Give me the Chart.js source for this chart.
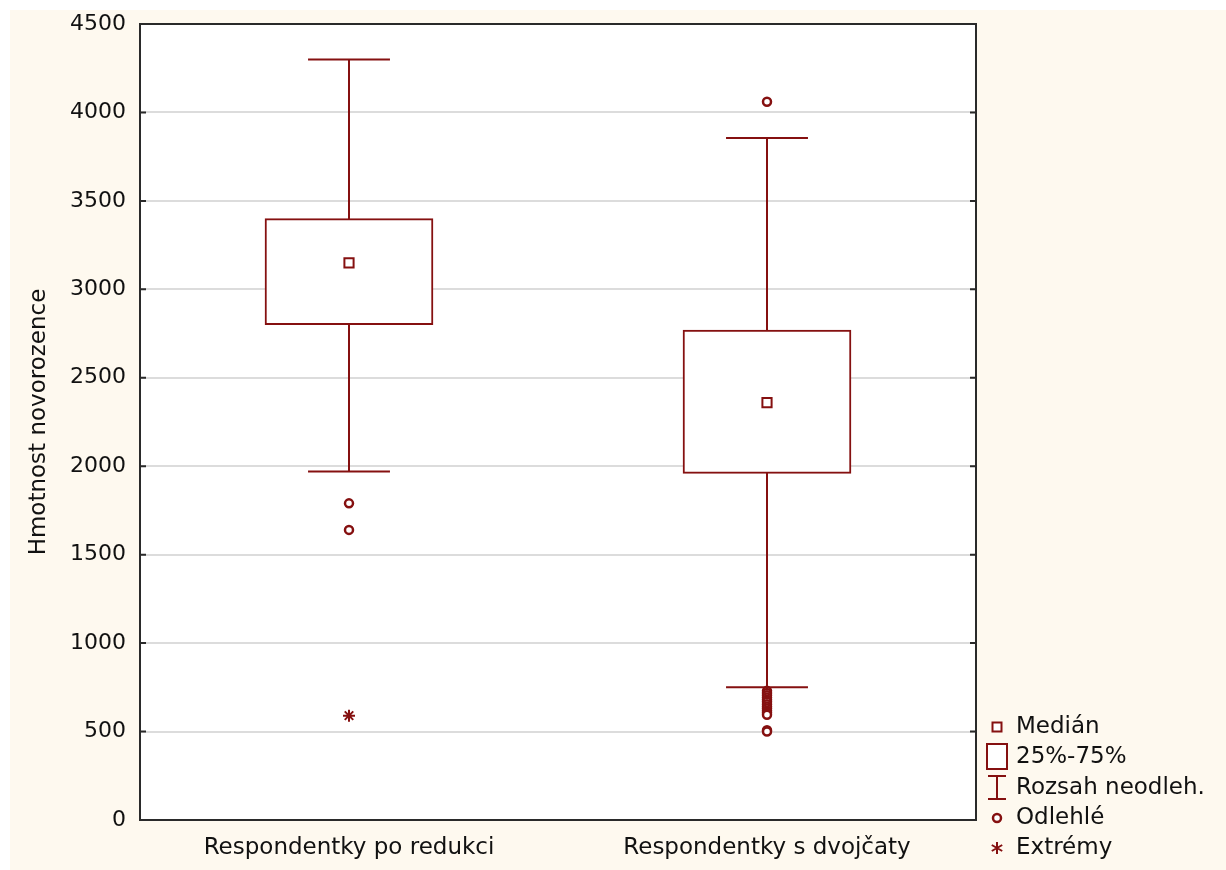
<!DOCTYPE html>
<html>
<head>
<meta charset="utf-8">
<script src="https://cdn.jsdelivr.net/npm/chart.js@4"></script>
<style>
html,body{margin:0;padding:0;background:#ffffff;}
#wrap{width:1226px;height:870px;}
</style>
</head>
<body>
<div id="wrap"><canvas id="c" width="1226" height="870"></canvas></div>
<script>
// ---- data ----
const categories = ['Respondentky po redukci', 'Respondentky s dvojčaty'];
const q1Values = [2800, 1960];
const q3Values = [3400, 2770];
const medianValues = [3150, 2360];
const whiskerLow = [1970, 750];
const whiskerHigh = [4300, 3855];
const outliers1 = [1790, 1640];
const outliers2 = [4060, 730, 718, 705, 692, 680, 668, 655, 642, 630, 618, 606, 595, 507, 500];
const extremes1 = [590];
const extremes2 = [];
const yTicks = [0, 500, 1000, 1500, 2000, 2500, 3000, 3500, 4000, 4500];
const yTitle = 'Hmotnost novorozence';
const legendLabels = ['Medián', '25%-75%', 'Rozsah neodleh.', 'Odlehlé', 'Extrémy'];

const RED = '#851010';
const TEXT = '#111111';
const FONT = '"DejaVu Sans", Verdana, sans-serif';

const pts = (cat, arr) => arr.map(v => ({x: cat, y: v}));

const bgPlugin = {
  id: 'bg',
  beforeDraw(chart) {
    const ctx = chart.ctx, a = chart.chartArea;
    ctx.save();
    ctx.fillStyle = '#ffffff';
    ctx.fillRect(0, 0, chart.width, chart.height);
    ctx.fillStyle = '#fef9ef';
    ctx.fillRect(10, 10, chart.width - 10, chart.height - 10);
    ctx.fillStyle = '#ffffff';
    ctx.fillRect(a.left, a.top, a.right - a.left, a.bottom - a.top);
    ctx.restore();
  }
};

const whiskerPlugin = {
  id: 'whiskers',
  beforeDatasetsDraw(chart) {
    const ctx = chart.ctx, xs = chart.scales.x, ys = chart.scales.y;
    ctx.save();
    ctx.strokeStyle = RED;
    ctx.lineWidth = 2;
    categories.forEach((c, i) => {
      const x = xs.getPixelForValue(i);
      const capHalf = xs.getPixelForValue(0.5) - xs.getPixelForValue(0);
      const cw = capHalf * 0.196;
      const yl = ys.getPixelForValue(whiskerLow[i]);
      const yh = ys.getPixelForValue(whiskerHigh[i]);
      ctx.beginPath();
      ctx.moveTo(x, yl); ctx.lineTo(x, yh);
      ctx.moveTo(x - cw, yl); ctx.lineTo(x + cw, yl);
      ctx.moveTo(x - cw, yh); ctx.lineTo(x + cw, yh);
      ctx.stroke();
    });
    ctx.restore();
  }
};

const framePlugin = {
  id: 'frame',
  afterDraw(chart) {
    const ctx = chart.ctx, a = chart.chartArea, ys = chart.scales.y;
    ctx.save();
    ctx.strokeStyle = '#2a2a2a';
    ctx.lineWidth = 2;
    ctx.strokeRect(a.left, a.top, a.right - a.left, a.bottom - a.top);
    ctx.beginPath();
    ys.ticks.forEach(t => {
      const y = ys.getPixelForValue(t.value);
      ctx.moveTo(a.left, y); ctx.lineTo(a.left + 6, y);
      ctx.moveTo(a.right, y); ctx.lineTo(a.right - 6, y);
    });
    ctx.stroke();

    // legend
    const ix = 997, tx = 1016;
    const rows = [727, 757, 788, 818, 848];
    ctx.strokeStyle = RED;
    ctx.fillStyle = '#ffffff';
    ctx.lineWidth = 2;
    ctx.fillRect(ix - 4.5, rows[0] - 4.5, 9, 9);
    ctx.strokeRect(ix - 4.5, rows[0] - 4.5, 9, 9);
    ctx.fillRect(987, 744, 20, 25);
    ctx.strokeRect(987, 744, 20, 25);
    ctx.beginPath();
    ctx.moveTo(988, 776); ctx.lineTo(1006, 776);
    ctx.moveTo(997, 776); ctx.lineTo(997, 799);
    ctx.moveTo(988, 799); ctx.lineTo(1006, 799);
    ctx.stroke();
    ctx.lineWidth = 2.5;
    ctx.beginPath();
    ctx.arc(ix, rows[3], 4, 0, Math.PI * 2);
    ctx.fill(); ctx.stroke();
    ctx.lineWidth = 2;
    ctx.beginPath();
    const r = 6, sy = rows[4];
    ctx.moveTo(ix, sy - r); ctx.lineTo(ix, sy + r);
    const d = r * 0.87, e = r * 0.5;
    ctx.moveTo(ix - d, sy - e); ctx.lineTo(ix + d, sy + e);
    ctx.moveTo(ix - d, sy + e); ctx.lineTo(ix + d, sy - e);
    ctx.stroke();
    ctx.fillStyle = TEXT;
    ctx.font = '23px ' + FONT;
    ctx.textBaseline = 'middle';
    ctx.textAlign = 'left';
    legendLabels.forEach((l, i) => ctx.fillText(l, tx, rows[i]));
    ctx.restore();
  }
};

const ctx = document.getElementById('c').getContext('2d');
new Chart(ctx, {
  type: 'bar',
  data: {
    labels: categories,
    datasets: [
      {
        label: 'Medián',
        type: 'line',
        data: categories.map((c, i) => ({x: c, y: medianValues[i]})),
        showLine: false,
        pointStyle: 'rect',
        pointRadius: 6.5,
        pointBorderWidth: 2,
        pointBorderColor: RED,
        pointBackgroundColor: '#ffffff',
        borderColor: RED,
        backgroundColor: '#ffffff',
        order: 1
      },
      {
        label: 'Odlehlé',
        type: 'line',
        data: pts(categories[0], outliers1).concat(pts(categories[1], outliers2)),
        showLine: false,
        pointStyle: 'circle',
        pointRadius: 4,
        pointBorderWidth: 2.5,
        pointBorderColor: RED,
        pointBackgroundColor: '#ffffff',
        borderColor: RED,
        backgroundColor: '#ffffff',
        order: 1
      },
      {
        label: 'Extrémy',
        type: 'line',
        data: pts(categories[0], extremes1).concat(pts(categories[1], extremes2)),
        showLine: false,
        pointStyle: 'star',
        pointRadius: 6,
        pointBorderWidth: 2,
        pointBorderColor: RED,
        borderColor: RED,
        order: 1
      },
      {
        label: '25%-75%',
        data: categories.map((c, i) => [q1Values[i], q3Values[i]]),
        backgroundColor: '#ffffff',
        borderColor: RED,
        borderWidth: 2,
        borderSkipped: false,
        barThickness: 168,
        order: 5
      }
    ]
  },
  options: {
    responsive: false,
    devicePixelRatio: 1,
    animation: false,
    layout: {padding: {left: 0, right: 250, top: 24, bottom: 0}},
    plugins: {legend: {display: false}, tooltip: {enabled: false}},
    scales: {
      x: {
        type: 'category',
        offset: true,
        grid: {display: false, drawTicks: false},
        border: {display: false},
        ticks: {color: TEXT, font: {family: FONT, size: 23}, padding: 14, maxRotation: 0},
        afterFit(s) { s.height = 50; s.paddingLeft = 0; s.paddingRight = 0; }
      },
      y: {
        min: 0,
        max: 4500,
        afterBuildTicks(s) { s.ticks = yTicks.map(v => ({value: v})); },
        grid: {color: '#dcdcdc', lineWidth: 2, drawTicks: false},
        border: {display: false},
        ticks: {color: TEXT, font: {family: FONT, size: 22}, padding: 14, callback: v => String(v)},
        title: {display: true, text: yTitle, color: TEXT, font: {family: FONT, size: 23}, padding: {top: 25, bottom: 0}},
        afterFit(s) { s.width = 140; s.paddingTop = 0; s.paddingBottom = 0; }
      }
    }
  },
  plugins: [bgPlugin, whiskerPlugin, framePlugin]
});
</script>
</body>
</html>
